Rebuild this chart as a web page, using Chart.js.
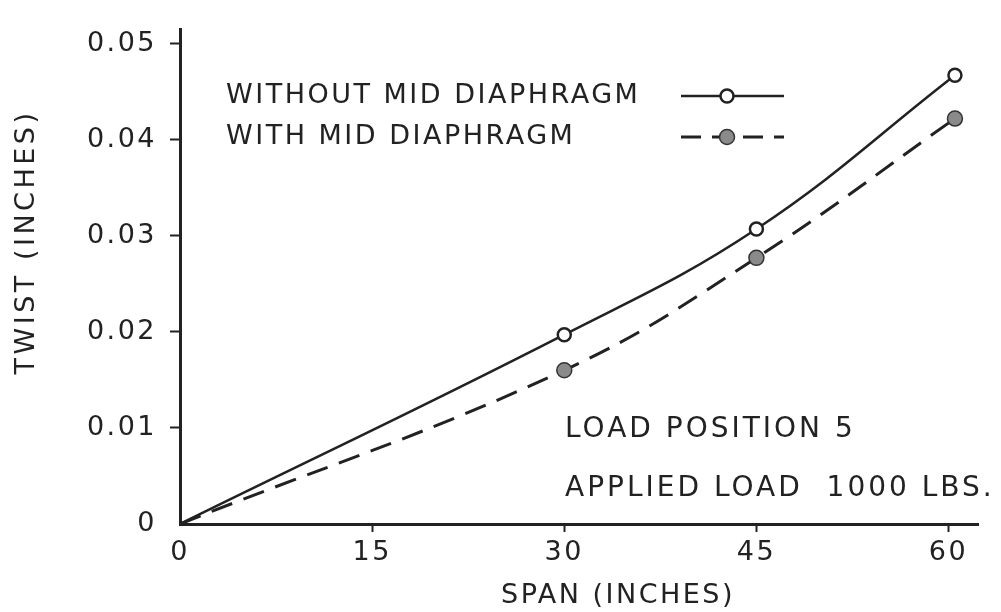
<!DOCTYPE html>
<html>
<head>
<meta charset="utf-8">
<script src="https://cdn.jsdelivr.net/npm/chart.js@4.4.1/dist/chart.umd.min.js"></script>
<style>
  html, body { margin: 0; padding: 0; background: #fff; }
  #wrap { width: 1001px; height: 612px; }
</style>
</head>
<body>
<div id="wrap"><canvas id="graph" width="1001" height="612"></canvas></div>
<script>
// span (inches) where twist was measured
const span = [0, 30, 45, 60.5];
// twist (inches)
const withoutMid = [0, 0.0197, 0.0307, 0.0467];
const withMid = [0, 0.016, 0.0277, 0.0422];

const xTicks = [0, 15, 30, 45, 60];
const yTicks = [0, 0.01, 0.02, 0.03, 0.04, 0.05];

const seriesNames = ["WITHOUT MID DIAPHRAGM", "WITH MID DIAPHRAGM"];
const noteLines = ["LOAD POSITION 5", "APPLIED LOAD  1000 LBS."];

const ink = "#222";
const font = "DejaVu Sans";

function pts(xs, ys) {
    return xs.map((x, i) => ({ x: x, y: ys[i] }));
}

// no marker on the origin
function markerRadius(r) {
    return ctx => (ctx.raw && ctx.raw.x === 0 ? 0 : r);
}

const textPlugin = {
    id: "texts",
    beforeDraw(chart) {
        chart.ctx.letterSpacing = "2.5px";
    },
    afterDraw(chart) {
        const c = chart.ctx;
        c.save();
        c.letterSpacing = "2.5px";
        c.fillStyle = ink;
        c.font = "27px '" + font + "'";
        c.textBaseline = "middle";
        c.textAlign = "left";

        // legend rows: label then line sample with marker
        const rows = [96, 137];
        seriesNames.forEach((name, i) => {
            c.fillText(name, 226, rows[i]);
        });
        c.strokeStyle = ink;
        c.lineWidth = 2.5;
        c.beginPath();
        c.moveTo(681, rows[0]);
        c.lineTo(784, rows[0]);
        c.stroke();
        c.setLineDash([20, 11]);
        c.lineWidth = 3;
        c.beginPath();
        c.moveTo(681, rows[1]);
        c.lineTo(784, rows[1]);
        c.stroke();
        c.setLineDash([]);
        c.beginPath();
        c.arc(727, rows[0], 6.5, 0, Math.PI * 2);
        c.fillStyle = "#fff";
        c.fill();
        c.lineWidth = 2.5;
        c.stroke();
        c.beginPath();
        c.arc(727, rows[1], 7.5, 0, Math.PI * 2);
        c.fillStyle = "#8a8a8a";
        c.fill();
        c.lineWidth = 1.5;
        c.strokeStyle = "#333";
        c.stroke();

        // load note
        c.fillStyle = ink;
        c.font = "28px '" + font + "'";
        c.letterSpacing = "3px";
        c.fillText(noteLines[0], 565, 430);
        c.fillText(noteLines[1], 565, 489);

        // axis titles
        c.font = "27px '" + font + "'";
        c.letterSpacing = "2.5px";
        c.textAlign = "center";
        c.fillText("SPAN (INCHES)", 618, 596);
        c.translate(27, 242);
        c.rotate(-Math.PI / 2);
        c.letterSpacing = "3.5px";
        c.fillText("TWIST (INCHES)", 0, 0);
        c.restore();
    }
};

const graph = document.getElementById("graph");
const ctx = graph.getContext("2d");

const myChart = new Chart(ctx, {
    type: "line",
    data: {
        datasets: [
            {
                label: seriesNames[0],
                data: pts(span, withoutMid),
                borderColor: ink,
                borderWidth: 2.5,
                tension: 0.4,
                pointRadius: markerRadius(6.5),
                pointBackgroundColor: "#fff",
                pointBorderColor: ink,
                pointBorderWidth: 2.5
            },
            {
                label: seriesNames[1],
                data: pts(span, withMid),
                borderColor: ink,
                borderWidth: 3,
                borderDash: [22, 12],
                tension: 0.4,
                pointRadius: markerRadius(7.5),
                pointBackgroundColor: "#8a8a8a",
                pointBorderColor: "#333",
                pointBorderWidth: 1.5
            }
        ]
    },
    options: {
        responsive: false,
        animation: false,
        layout: { padding: { top: 24, right: 23, left: 0, bottom: 0 } },
        plugins: {
            legend: { display: false },
            tooltip: { enabled: false }
        },
        scales: {
            x: {
                type: "linear",
                min: 0,
                max: 62.3,
                afterFit(scale) { scale.height = 88; },
                afterBuildTicks(scale) {
                    scale.ticks = xTicks.map(v => ({ value: v }));
                },
                border: { display: true, color: ink, width: 3 },
                grid: {
                    drawOnChartArea: false,
                    tickLength: 8,
                    tickWidth: 2,
                    tickColor: c => (c.tick && c.tick.value === 0 ? "rgba(0,0,0,0)" : ink)
                },
                ticks: {
                    color: ink,
                    padding: 5,
                    font: { family: font, size: 27 },
                    maxRotation: 0,
                    callback: v => String(v)
                }
            },
            y: {
                min: 0,
                max: 0.0515,
                afterFit(scale) { scale.width = 180; },
                afterBuildTicks(scale) {
                    scale.ticks = yTicks.map(v => ({ value: v }));
                },
                border: { display: true, color: ink, width: 3 },
                grid: {
                    drawOnChartArea: false,
                    tickLength: 10,
                    tickWidth: 2,
                    tickColor: c => (c.tick && c.tick.value === 0 ? "rgba(0,0,0,0)" : ink)
                },
                ticks: {
                    color: ink,
                    padding: 13,
                    font: { family: font, size: 27 },
                    callback: v => (v === 0 ? "0" : v.toFixed(2))
                }
            }
        }
    },
    plugins: [textPlugin]
});
</script>
</body>
</html>
